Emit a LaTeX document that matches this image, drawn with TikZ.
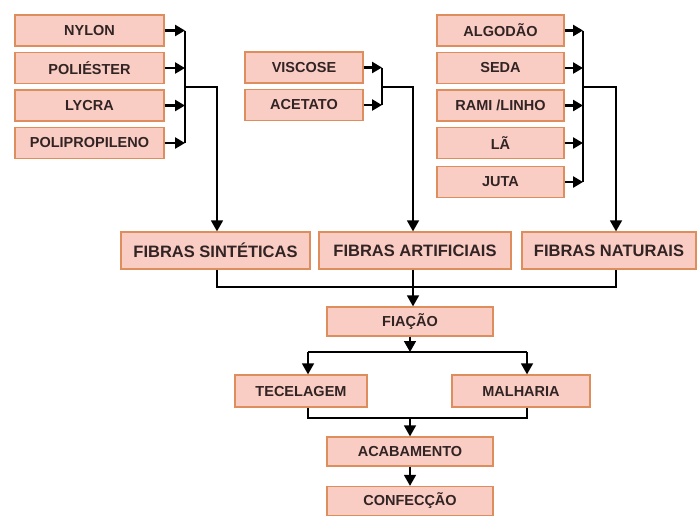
\documentclass[tikz,border=0pt]{standalone}
\usepackage{fontspec}
\setmainfont{Liberation Sans}
\usetikzlibrary{arrows.meta}
\definecolor{bfill}{RGB}{250,205,196}
\definecolor{bdraw}{RGB}{222,142,92}
\definecolor{btext}{RGB}{50,36,36}
\begin{document}
\begin{tikzpicture}[x=1pt,y=-1pt,
  box/.style={draw=bdraw,fill=bfill,line width=1.3pt,text=btext,inner sep=0pt,
    font=\bfseries\fontsize{14.5}{15}\selectfont},
  lbox/.style={box,minimum width=149pt,minimum height=31pt},
  mbox/.style={box,minimum width=118pt,minimum height=31pt},
  rbox/.style={box,minimum width=127pt,minimum height=31pt},
  fbox/.style={box,minimum height=37pt,font=\bfseries\fontsize{16.5}{17}\selectfont},
  cbox/.style={box,minimum width=166pt,minimum height=29pt},
  conn/.style={line width=1.6pt,black},
  arr/.style={conn,-{Triangle[width=12pt,length=11pt]}},
  sarr/.style={line width=2.6pt,black,-{Triangle[width=11pt,length=10pt]}}]
\useasboundingbox (0,0) rectangle (700,515);
\fill[white] (0,0) rectangle (700,515);

% left group
\node[lbox] (nylon) at (89.5,30.5) {NYLON};
\node[lbox] (poli)  at (89.5,68) {POLIÉSTER};
\node[lbox] (lycra) at (89.5,105.5) {LYCRA};
\node[lbox] (polip) at (89.5,143) {POLIPROPILENO};
% middle group
\node[mbox] (visc) at (304,67.5) {VISCOSE};
\node[mbox] (acet) at (304,105) {ACETATO};
% right group
\node[rbox] (alg)  at (500.5,30.5) {ALGODÃO};
\node[rbox] (seda) at (500.5,68) {SEDA};
\node[rbox] (rami) at (500.5,105.5) {RAMI /LINHO};
\node[rbox] (la)   at (500.5,143) {LÃ};
\node[rbox] (juta) at (500.5,182) {JUTA};
% fibras
\node[fbox,minimum width=189pt] (sint) at (215.5,250.5) {FIBRAS SINTÉTICAS};
\node[fbox,minimum width=192pt] (art)  at (415,250.5) {FIBRAS ARTIFICIAIS};
\node[fbox,minimum width=174pt] (nat)  at (609,250.5) {FIBRAS NATURAIS};
% process
\node[cbox] (fia)  at (410,321.5) {FIAÇÃO};
\node[box,minimum width=132pt,minimum height=32pt] (tec) at (301,391) {TECELAGEM};
\node[box,minimum width=138pt,minimum height=32pt] (mal) at (521,391) {MALHARIA};
\node[cbox] (acab) at (410,451.5) {ACABAMENTO};
\node[cbox] (conf) at (410,501) {CONFECÇÃO};

% junction coordinates
\coordinate (sbar) at (185,87);
\coordinate (abar) at (382,87);
\coordinate (nbar) at (583,87);
\coordinate (scol) at (217,87);
\coordinate (acol) at (413,87);
\coordinate (ncol) at (616,87);
\coordinate (fj) at (413,287);
\coordinate (pj) at (410,352);
\coordinate (tj) at (308,352);
\coordinate (mj) at (527,352);
\coordinate (bj) at (410,418);

% left
\foreach \n in {nylon,poli,lycra,polip}{\draw[sarr] (\n.east) -- (\n.east -| sbar);}
\draw[conn] (nylon.east -| sbar) -- (polip.east -| sbar);
\draw[arr] (sbar) -- (scol) -- (scol |- sint.north);
% middle
\foreach \n in {visc,acet}{\draw[sarr] (\n.east) -- (\n.east -| abar);}
\draw[conn] (visc.east -| abar) -- (acet.east -| abar);
\draw[arr] (abar) -- (acol) -- (acol |- art.north);
% right
\foreach \n in {alg,seda,rami,la,juta}{\draw[sarr] (\n.east) -- (\n.east -| nbar);}
\draw[conn] (alg.east -| nbar) -- (juta.east -| nbar);
\draw[arr] (nbar) -- (ncol) -- (ncol |- nat.north);

% fibras to fiacao
\draw[conn] (scol |- sint.south) -- (scol |- fj) -- (ncol |- fj) -- (ncol |- nat.south);
\draw[arr] (acol |- art.south) -- (acol |- fia.north);

% fiacao to tecelagem / malharia
\draw[arr] (fia.south) -- (pj);
\draw[conn] (tj) -- (mj);
\draw[arr] (tj) -- (tj |- tec.north);
\draw[arr] (mj) -- (mj |- mal.north);
\draw[conn] (tj |- tec.south) -- (tj |- bj) -- (mj |- bj) -- (mj |- mal.south);
\draw[arr] (bj) -- (acab.north);
\draw[arr] (acab.south) -- (conf.north);
\end{tikzpicture}
\end{document}
